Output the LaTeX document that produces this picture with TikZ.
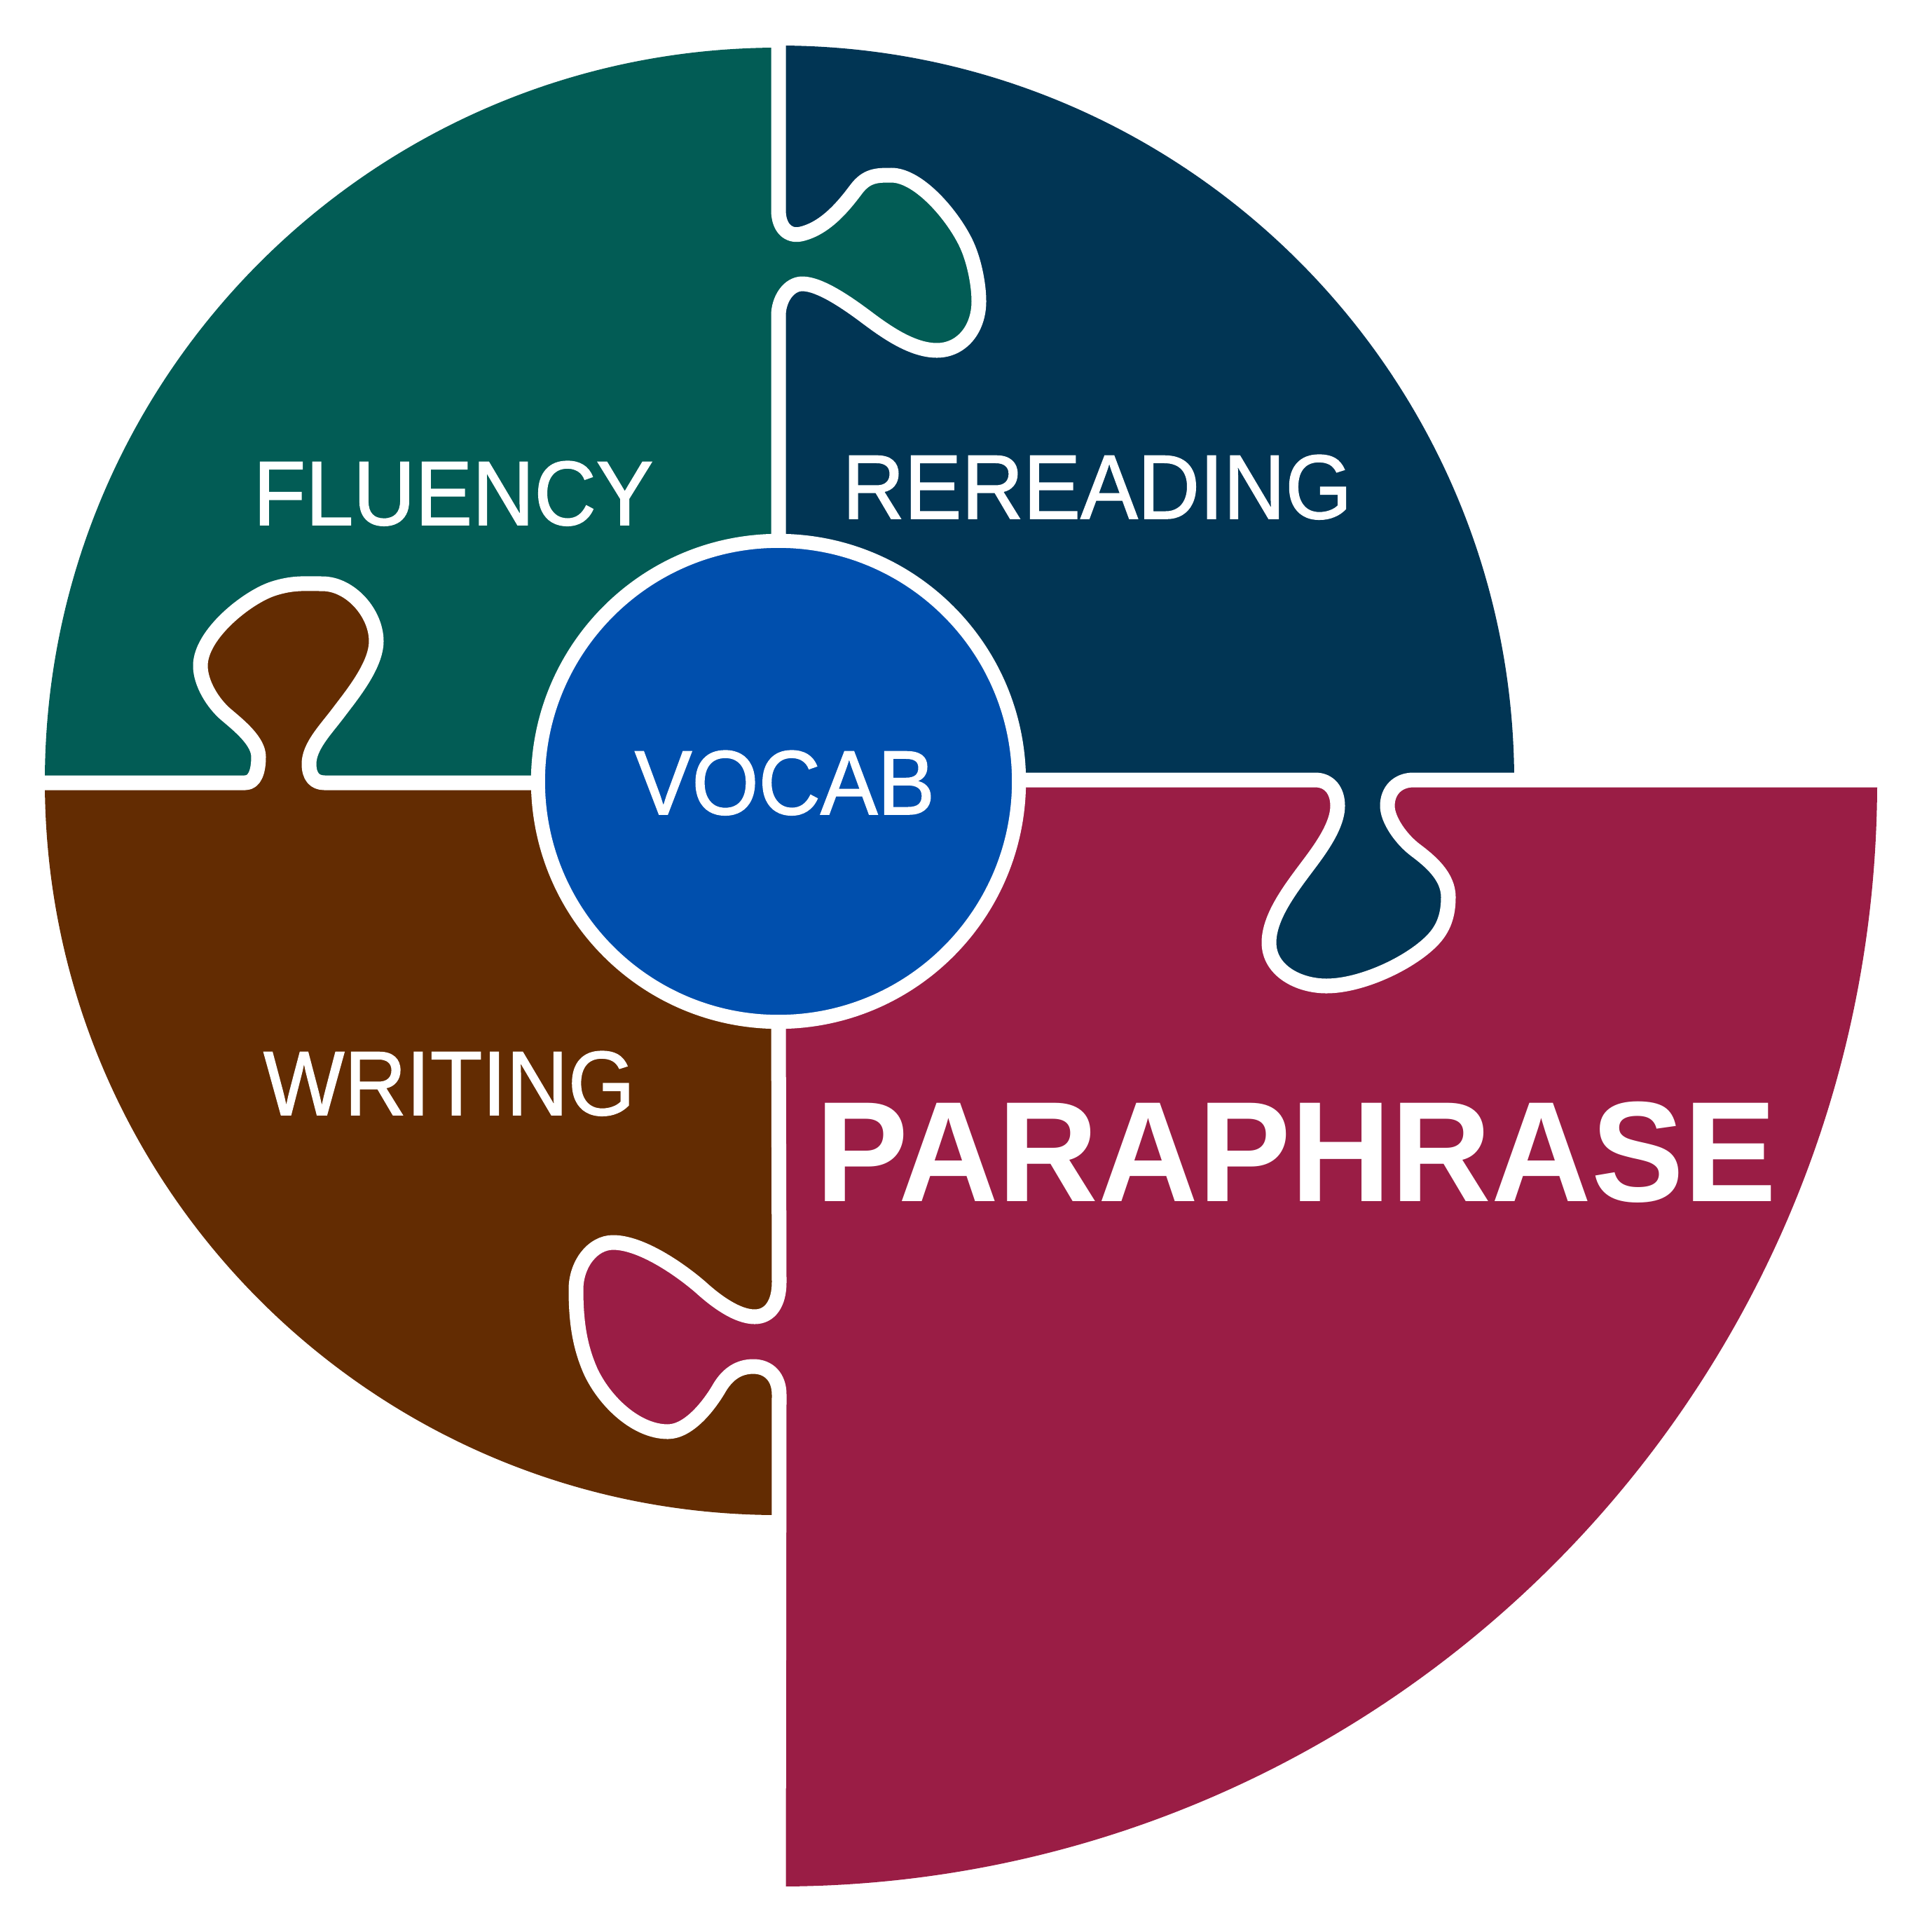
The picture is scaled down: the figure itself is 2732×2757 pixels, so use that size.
\documentclass[tikz,border=0pt]{standalone}
\usepackage{fontspec}
\newfontfamily\labelfont{Liberation Sans}[FakeStretch=0.94, FakeBold=1.2]
\newfontfamily\boldlabelfont{Liberation Sans}[FakeStretch=0.97]
\usepackage{tikz}
\usepackage{xcolor}

\definecolor{fluencyteal}{RGB}{2,92,85}
\definecolor{rereadnavy}{RGB}{1,53,84}
\definecolor{vocabblue}{RGB}{0,79,173}
\definecolor{writingbrown}{RGB}{99,44,2}
\definecolor{paracrimson}{RGB}{154,29,69}

%% tab outlines (centre line of the white seam)
\newcommand\fluencytab{%
  .. controls +(0,25)    and +(-18,4)  .. (1143,334)
  .. controls +(35,-8)   and +(-18,24) .. (1222,270)
  .. controls +(15,-20)  and +(-20,0)  .. (1272,250)
  .. controls +(40,0)    and +(-18,-40).. (1380,350)
  .. controls +(10,22)   and +(0,-25)  .. (1397,430)
  .. controls +(0,40)    and +(35,0)   .. (1337,500)
  .. controls +(-35,0)   and +(28,21)  .. (1237,453)
  .. controls +(-28,-21) and +(25,0)   .. (1145,405)
  .. controls +(-20,0)   and +(0,-22)  .. (1111,450)}
\newcommand\rereadtab{%
  .. controls +(20,0)    and +(0,-22)  .. (1909,1150)
  .. controls +(0,30)    and +(18,-24) .. (1863,1240)
  .. controls +(-24,32)  and +(0,-35)  .. (1811,1345)
  .. controls +(0,40)    and +(-40,0)  .. (1893,1407)
  .. controls +(50,0)    and +(-32,32) .. (2043,1343)
  .. controls +(18,-18)  and +(0,25)   .. (2067,1280)
  .. controls +(0,-30)   and +(20,15)  .. (2020,1213)
  .. controls +(-20,-15) and +(0,20)   .. (1980,1150)
  .. controls +(0,-22)   and +(-22,0)  .. (2017,1113)}
\newcommand\paratab{%
  .. controls +(0,30)    and +(22,0)   .. (1077,1879)
  .. controls +(-25,0)   and +(22,20)  .. (1000,1837)
  .. controls +(-30,-26) and +(40,0)   .. (875,1773)
  .. controls +(-30,0)   and +(0,-35)  .. (822,1840)
  .. controls +(0,45)    and +(-16,-36).. (843,1957)
  .. controls +(20,43)   and +(-45,0)  .. (953,2043)
  .. controls +(30,0)    and +(-15,26) .. (1027,1980)
  .. controls +(12,-20)  and +(-20,0)  .. (1075,1950)
  .. controls +(22,0)    and +(0,-25)  .. (1112,1990)}
\newcommand\writingtab{%
  .. controls +(14,0)    and +(0,20)   .. (369,1080)
  .. controls +(0,-22)   and +(19,16)  .. (323,1020)
  .. controls +(-19,-16) and +(0,25)   .. (286,950)
  .. controls +(0,-45)   and +(-37,12) .. (390,840)
  .. controls +(28,-9)   and +(-25,0)  .. (460,833)
  .. controls +(40,0)    and +(0,-40)  .. (537,915)
  .. controls +(0,35)    and +(18,-24) .. (483,1017)
  .. controls +(-18,24)  and +(0,-25)  .. (441,1090)
  .. controls +(0,18)    and +(-14,0)  .. (463,1117)}

\begin{document}
\begin{tikzpicture}[x=0.01cm, y=-0.01cm,
    seam/.style={draw=white, line width=0.21cm, line cap=round, line join=round},
    word/.style={text=white, inner sep=0pt, anchor=base,
        font=\labelfont\fontsize{37}{40}\selectfont},
    bigword/.style={word, font=\boldlabelfont\bfseries\fontsize{58}{64}\selectfont},
    hub/.style={circle, fill=vocabblue, draw=white, line width=0.2cm,
        minimum size=6.86cm, inner sep=0pt},
  ]
  \useasboundingbox (0,0) rectangle (2732,2757);

  %% --- quarter pieces ---
  \fill[fluencyteal]  (1111,1115) -- (64,1115)   arc[start angle=180, end angle=270, radius=1047] -- cycle;
  \fill[rereadnavy]   (1111,1115) -- (1111,65)   arc[start angle=270, end angle=360, radius=1050] -- cycle;
  \fill[writingbrown] (1111,1115) -- (1111,2162) arc[start angle=90,  end angle=180, radius=1047] -- cycle;
  \fill[paracrimson]  (1111,1115) -- (2679,1115) arc[start angle=0,   end angle=90, x radius=1568, y radius=1577] -- cycle;

  %% --- tabs ---
  \fill[fluencyteal]  (1111,300)  \fluencytab -- cycle;
  \fill[rereadnavy]   (1877,1113) \rereadtab  -- cycle;
  \fill[paracrimson]  (1112,1830) \paratab    -- cycle;
  \fill[writingbrown] (350,1117)  \writingtab -- cycle;

  %% --- white seams ---
  \draw[seam] (1111,30)   -- (1111,300)  \fluencytab -- (1111,780);
  \draw[seam] (1440,1113) -- (1877,1113) \rereadtab  -- (2700,1113);
  \draw[seam] (1111,1450) -- (1112,1830) \paratab    -- (1111,2720);
  \draw[seam] (40,1117)   -- (350,1117)  \writingtab -- (780,1117);

  %% --- centre and labels ---
  \node[hub] (hub) at (1111,1115) {};
  \node[word] (vocab)     at (1120,1162) {VOCAB};
  \node[word] (fluency)   at (647,749)   {FLUENCY};
  \node[word] (rereading) at (1566,740)  {REREADING};
  \node[word] (writing)   at (641,1591)  {WRITING};
  \node[bigword] (paraphrase) at (1850,1714) {PARAPHRASE};

\end{tikzpicture}
\end{document}
